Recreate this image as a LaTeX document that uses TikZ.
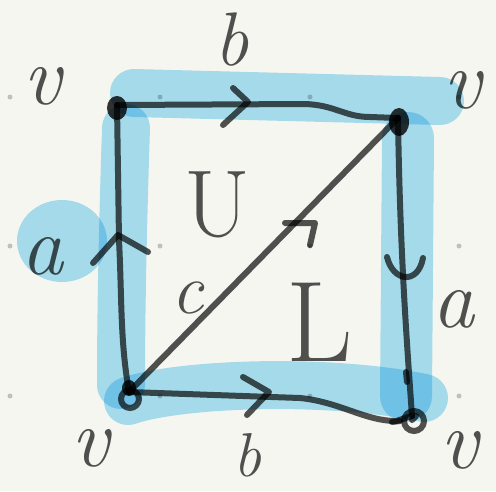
\documentclass[tikz,border=0pt]{standalone}
\usepackage{fontspec}
\usepackage{tikz}
\usetikzlibrary{arrows.meta, positioning}

\definecolor{paper}{RGB}{246,246,240}
\definecolor{hilite}{RGB}{172,226,250}
\definecolor{dotgrey}{RGB}{192,192,190}

\tikzset{
    ink/.style={draw=black, draw opacity=0.68, line width=6pt, line cap=round, line join=round},
    band/.style={draw=hilite, line width=48pt, line cap=round, line join=round, blend mode=multiply},
    lbl/.style={text=black, text opacity=0.68, inner sep=0pt}
}

\begin{document}
\begin{tikzpicture}[x=1pt, y=-1pt]
    \useasboundingbox (0,0) rectangle (496,491);
    \fill[paper] (0,0) rectangle (496,491);

    % grid dots
    \foreach \x in {10,160,310,459}
        \foreach \y in {97,246,396}
            \fill[dotgrey] (\x,\y) circle (2.5);

    % highlighted edges
    \draw[band] (134,93) -- (440,101);
    \draw[band] (126,128) .. controls (122,250) and (121,330) .. (121,385);
    \draw[band, line width=52pt] (408,138) -- (406,396);
    \draw[band] (128,401) .. controls (180,383) and (330,378) .. (424,398);
    \fill[hilite, blend mode=multiply] (62,241) ellipse (45 and 41);

    % vertices
    \coordinate (tl) at (117,105);
    \coordinate (tr) at (398,118);
    \coordinate (bl) at (129,392);
    \coordinate (br) at (412,416);

    % edges
    \draw[ink] (tl) -- (305,104) .. controls (335,105) and (345,117) .. (370,117) -- (tr);
    \draw[ink] (tr) .. controls (400,250) and (406,330) .. (br);
    \draw[ink] (bl) -- (300,398) .. controls (340,402) and (365,421) .. (396,421) -- (br);
    \draw[ink] (bl) .. controls (120,340) and (122,300) .. (119,240) -- (tl);
    \draw[ink] (bl) -- (tr);

    % vertex marks
    \fill[black, opacity=0.8] (117,108) ellipse (10 and 12);
    \fill[black, opacity=0.8] (399,122) ellipse (10 and 14);
    \fill[black, opacity=0.8] (129,388) ellipse (7 and 8);
    \draw[ink] (130,399) circle (9);
    \draw[ink] (414,421) circle (10);
    \draw[ink] (412,420) -- (416,416);
    \draw[ink] (406,372) -- (407,382);
    \draw[ink] (392,422) -- (400,421);

    % arrows
    \draw[ink] (233,88) -- (248,102) -- (223,125);
    \draw[ink] (93,263) -- (118,235) -- (148,252);
    \draw[ink] (387,257) .. controls (393,282) and (418,285) .. (423,258);
    \draw[ink] (243,377) -- (269,392) -- (247,415);
    \draw[ink] (285,223) -- (315,223) -- (310,245);

    % labels
    \node[lbl, font=\fontsize{76}{76}\selectfont\itshape] (btop) at (232,40) {b};
    \node[lbl, font=\fontsize{62}{62}\selectfont\itshape] (bbot) at (247,455) {b};
    \node[lbl, font=\fontsize{84}{84}\selectfont\itshape] (aleft) at (42,256) {a};
    \node[lbl, font=\fontsize{84}{84}\selectfont\itshape] (aright) at (453,309) {a};
    \node[lbl, font=\fontsize{72}{72}\selectfont\itshape] (clbl) at (188,298) {c};
    \node[lbl, font=\fontsize{95}{95}\selectfont] (ulbl) at (217,205) {U};
    \node[lbl, font=\fontsize{115}{115}\selectfont] (llbl) at (320,322) {L};
    \node[lbl, font=\fontsize{84}{84}\selectfont\itshape] (vtl) at (42,86) {v};
    \node[lbl, font=\fontsize{84}{84}\selectfont\itshape] (vtr) at (462,90) {v};
    \node[lbl, font=\fontsize{84}{84}\selectfont\itshape] (vbl) at (90,448) {v};
    \node[lbl, font=\fontsize{84}{84}\selectfont\itshape] (vbr) at (459,450) {v};
\end{tikzpicture}
\end{document}
